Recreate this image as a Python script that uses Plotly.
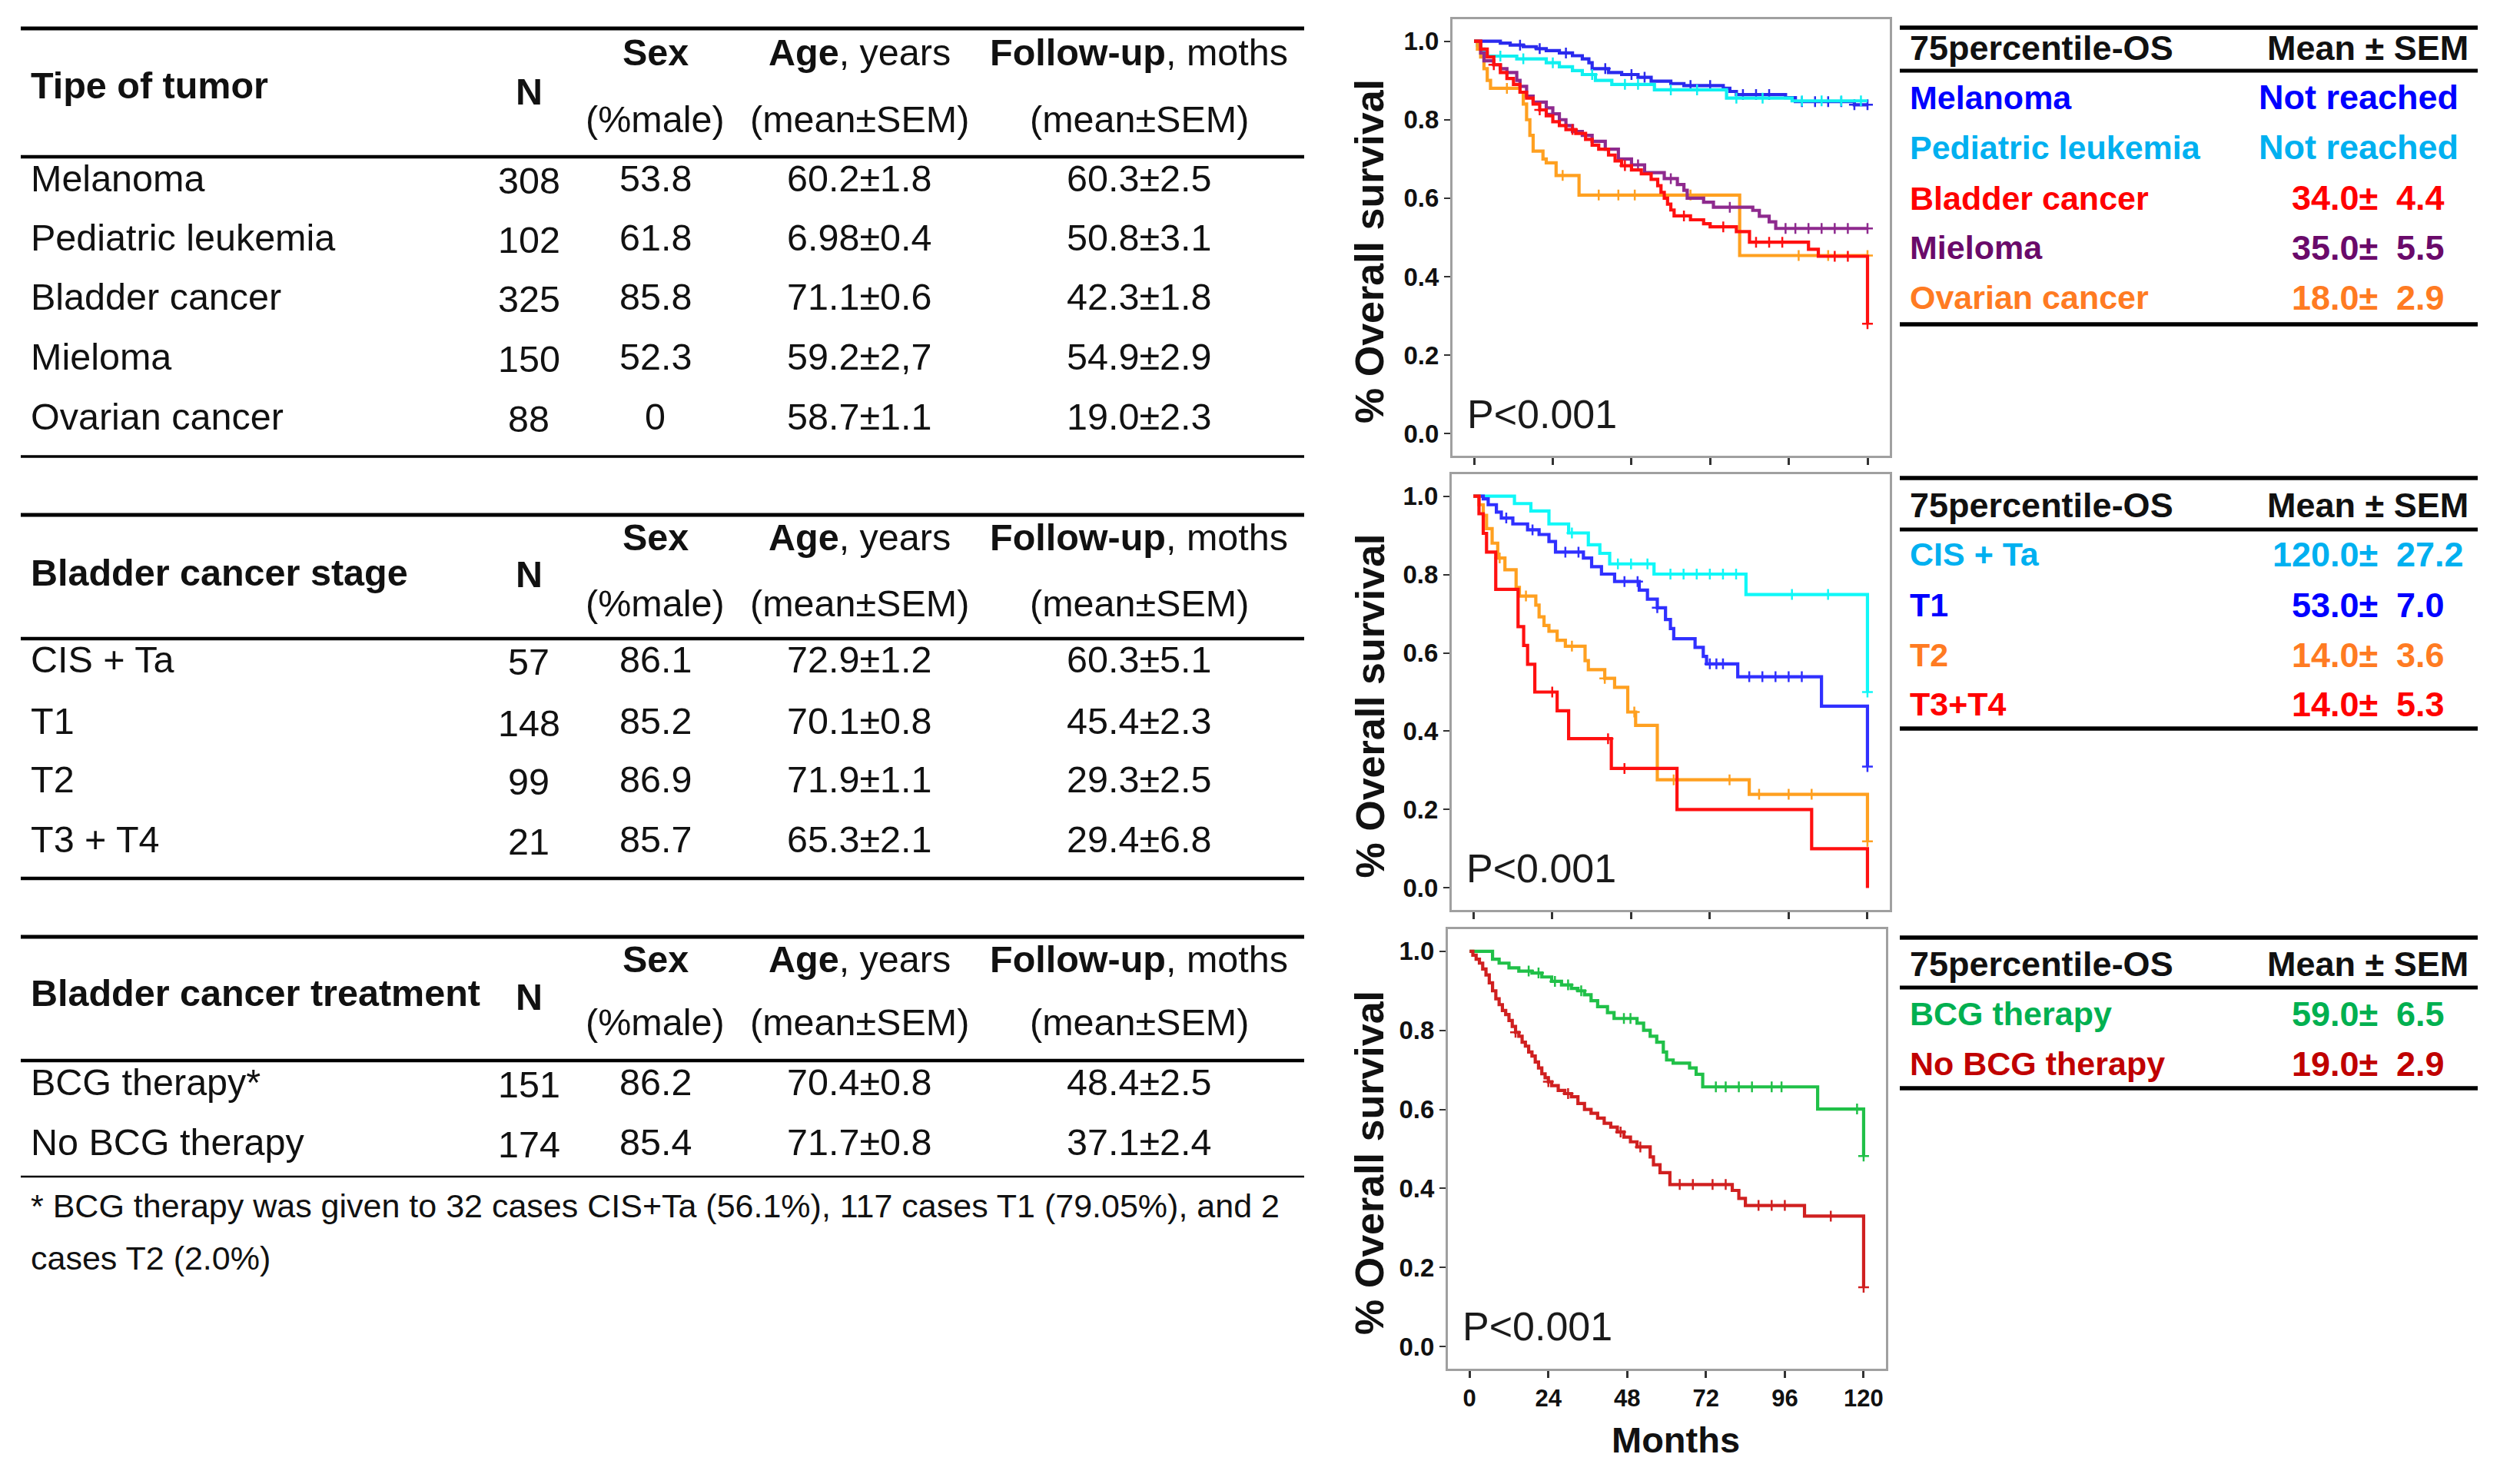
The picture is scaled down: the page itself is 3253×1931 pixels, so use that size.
import plotly.graph_objects as go

W, H = 3253, 1931

# ---------------- DATA ----------------
# Left tables
col_heads_top = ["<b>Sex</b>", "<b>Age</b>, years", "<b>Follow-up</b>, moths"]
col_heads_bot = ["(%male)", "(mean±SEM)", "(mean±SEM)"]

tumor_title = "Tipe of tumor"
tumor_labels = ["Melanoma", "Pediatric leukemia", "Bladder cancer", "Mieloma", "Ovarian cancer"]
tumor_n = ["308", "102", "325", "150", "88"]
tumor_sex = ["53.8", "61.8", "85.8", "52.3", "0"]
tumor_age = ["60.2±1.8", "6.98±0.4", "71.1±0.6", "59.2±2,7", "58.7±1.1"]
tumor_fu = ["60.3±2.5", "50.8±3.1", "42.3±1.8", "54.9±2.9", "19.0±2.3"]

stage_title = "Bladder cancer stage"
stage_labels = ["CIS + Ta", "T1", "T2", "T3 + T4"]
stage_n = ["57", "148", "99", "21"]
stage_sex = ["86.1", "85.2", "86.9", "85.7"]
stage_age = ["72.9±1.2", "70.1±0.8", "71.9±1.1", "65.3±2.1"]
stage_fu = ["60.3±5.1", "45.4±2.3", "29.3±2.5", "29.4±6.8"]

treat_title = "Bladder cancer treatment"
treat_labels = ["BCG therapy*", "No BCG therapy"]
treat_n = ["151", "174"]
treat_sex = ["86.2", "85.4"]
treat_age = ["70.4±0.8", "71.7±0.8"]
treat_fu = ["48.4±2.5", "37.1±2.4"]

footnote_lines = ["* BCG therapy was given to 32 cases CIS+Ta (56.1%), 117 cases T1 (79.05%), and 2",
                  "cases T2 (2.0%)"]

# Right tables
os_head = ["75percentile-OS", "Mean ± SEM"]
os1_labels = ["Melanoma", "Pediatric leukemia", "Bladder cancer", "Mieloma", "Ovarian cancer"]
os1_values = ["Not reached", "Not reached", "34.0± 4.4", "35.0± 5.5", "18.0± 2.9"]
os2_labels = ["CIS + Ta", "T1", "T2", "T3+T4"]
os2_values = ["120.0± 27.2", "53.0± 7.0", "14.0± 3.6", "14.0± 5.3"]
os3_labels = ["BCG therapy", "No BCG therapy"]
os3_values = ["59.0± 6.5", "19.0± 2.9"]

# Kaplan-Meier curves (months, survival)
mel_t = [0, 8, 11, 15, 19, 22, 26, 30, 33, 35, 36, 41, 45, 50, 54, 60, 64, 76, 78, 80, 95, 98, 116, 120]
mel_s = [1.0, 0.995, 0.99, 0.986, 0.981, 0.976, 0.97, 0.963, 0.955, 0.945, 0.93, 0.92, 0.915, 0.908, 0.898,
         0.892, 0.887, 0.88, 0.872, 0.864, 0.856, 0.846, 0.838, 0.838]
leuk_t = [0, 1, 2, 3, 4, 13, 22, 26, 30, 33, 37, 42, 55, 77, 97, 120]
leuk_s = [1.0, 0.99, 0.98, 0.97, 0.962, 0.955, 0.945, 0.935, 0.925, 0.915, 0.9, 0.89, 0.876, 0.855, 0.848, 0.848]
bl_t = [0, 2, 4, 6, 8, 10, 12, 14, 16, 18, 20, 22, 24, 26, 28, 31, 34, 36, 38, 41, 43, 45, 48, 51, 54, 56, 57,
        58, 59, 60, 61, 66, 70, 72, 80, 84, 102, 105, 120]
bl_s = [1.0, 0.98, 0.96, 0.94, 0.92, 0.905, 0.89, 0.87, 0.855, 0.84, 0.825, 0.81, 0.795, 0.785, 0.775, 0.765,
        0.75, 0.735, 0.725, 0.71, 0.695, 0.683, 0.672, 0.662, 0.648, 0.632, 0.615, 0.6, 0.585, 0.57, 0.555,
        0.545, 0.535, 0.527, 0.515, 0.488, 0.47, 0.452, 0.28]
mie_t = [0, 2, 3, 6, 8, 10, 13, 14, 16, 18, 22, 24, 26, 28, 30, 33, 36, 40, 44, 48, 52, 58, 62, 64, 65, 70, 73,
         85, 87, 90, 92, 120]
mie_s = [1.0, 0.97, 0.95, 0.94, 0.93, 0.92, 0.9, 0.885, 0.86, 0.845, 0.83, 0.815, 0.8, 0.785, 0.77, 0.76, 0.745,
         0.725, 0.7, 0.685, 0.665, 0.65, 0.635, 0.62, 0.6, 0.59, 0.577, 0.569, 0.554, 0.54, 0.523, 0.523]
ov_t = [0, 1, 2, 3, 4, 5, 14, 15, 16, 17, 18, 21, 22, 25, 32, 81, 120]
ov_s = [1.0, 0.98, 0.96, 0.93, 0.9, 0.88, 0.87, 0.84, 0.8, 0.76, 0.72, 0.7, 0.69, 0.658, 0.608, 0.454, 0.454]

cis_t = [0, 12.5, 17.5, 23, 29, 35, 38.5, 41.5, 55, 83, 120]
cis_s = [1.0, 0.981, 0.962, 0.929, 0.906, 0.876, 0.854, 0.827, 0.801, 0.749, 0.5]
t1_t = [0, 3, 4.5, 7, 8.5, 12, 16.5, 20, 23, 25, 33.5, 36, 39, 43, 50.5, 53, 56, 58.5, 60, 61, 67.5, 70, 71,
        80.5, 106, 120]
t1_s = [1.0, 0.993, 0.978, 0.959, 0.944, 0.929, 0.914, 0.902, 0.884, 0.857, 0.842, 0.82, 0.801, 0.782, 0.76,
        0.737, 0.715, 0.685, 0.662, 0.636, 0.614, 0.591, 0.572, 0.539, 0.464, 0.31]
t2_t = [0, 1.7, 3, 4, 5.7, 7.4, 9.6, 13, 14, 19, 20, 21.5, 23, 25.5, 28, 34, 35, 40, 43, 47, 49.4, 56, 84, 120]
t2_s = [1.0, 0.978, 0.951, 0.917, 0.88, 0.842, 0.812, 0.767, 0.745, 0.722, 0.692, 0.67, 0.655, 0.632, 0.617,
        0.58, 0.557, 0.535, 0.512, 0.449, 0.415, 0.276, 0.239, 0.119]
t34_t = [0, 1.7, 3, 4, 6.8, 13.6, 15.3, 16.5, 18.7, 25.5, 29, 42, 62, 103, 120]
t34_s = [1.0, 0.955, 0.905, 0.857, 0.762, 0.667, 0.619, 0.571, 0.5, 0.452, 0.381, 0.305, 0.2, 0.1, 0.0]

bcg_t = [0, 7, 9, 12, 15, 19, 22, 25, 28, 31, 33, 35, 37, 39, 42, 44, 51, 53, 55, 57, 59, 60, 62, 67, 69, 71,
         106, 120]
bcg_s = [1.0, 0.98, 0.97, 0.958, 0.95, 0.945, 0.935, 0.924, 0.915, 0.906, 0.9, 0.89, 0.875, 0.86, 0.845, 0.83,
         0.818, 0.8, 0.785, 0.77, 0.745, 0.725, 0.717, 0.705, 0.689, 0.657, 0.601, 0.482]
nobcg_t = [0, 1, 2, 3, 4, 5, 6, 7, 8, 9, 10, 11, 12, 13, 14, 15, 16, 17, 18, 19, 20, 21, 22, 23, 24, 25, 27, 29,
           31, 33, 35, 37, 39, 41, 43, 45, 47, 49, 51, 55, 56, 58, 61, 80, 82, 84, 102, 120]
nobcg_s = [1.0, 0.99, 0.98, 0.97, 0.955, 0.94, 0.92, 0.9, 0.88, 0.865, 0.85, 0.84, 0.825, 0.81, 0.795, 0.785,
           0.77, 0.76, 0.745, 0.735, 0.72, 0.705, 0.69, 0.68, 0.67, 0.66, 0.648, 0.64, 0.632, 0.615, 0.6, 0.59,
           0.578, 0.565, 0.555, 0.543, 0.53, 0.518, 0.505, 0.48, 0.46, 0.44, 0.41, 0.395, 0.375, 0.357, 0.33, 0.15]

# censoring times
mel_c = [14, 20, 28, 40, 48, 52, 66, 72, 82, 86, 90, 100, 104, 108, 112, 116, 120]
leuk_c = [8, 15, 24, 36, 46, 50, 60, 68, 80, 88, 100, 106, 112, 118]
bl_c = [6, 20, 30, 46, 64, 76, 86, 90, 94, 110, 114, 120]
mie_c = [24, 50, 60, 78, 95, 98, 102, 106, 110, 114, 120]
ov_c = [10, 27, 38, 44, 49, 66, 99, 108, 120]
cis_c = [30, 44, 48, 53, 60, 64, 68, 72, 76, 80, 97, 108, 120]
t1_c = [10, 18, 28, 32, 46, 50, 56, 72, 74, 76, 84, 88, 92, 96, 100, 120]
t2_c = [8, 16, 30, 40, 49, 61, 78, 87, 96, 103, 120]
t34_c = [24, 41, 46]
bcg_c = [18, 21, 26, 30, 34, 47, 49, 75, 78, 82, 86, 92, 95, 118, 120]
nobcg_c = [14, 24, 30, 46, 52, 64, 68, 74, 78, 88, 92, 96, 110, 120]

y_tickvals = [0.0, 0.2, 0.4, 0.6, 0.8, 1.0]
y_ticktext = ["0.0", "0.2", "0.4", "0.6", "0.8", "1.0"]
x_tickvals = [0, 24, 48, 72, 96, 120]
x_ticktext = ["0", "24", "48", "72", "96", "120"]
p_text = "P<0.001"
y_title = "% Overall survival"
x_title = "Months"

# ---------------- STYLE / LAYOUT ----------------
LF = "Liberation Sans, Arial, sans-serif"
RF = "Liberation Sans, Arial, sans-serif"
TXT = "#111111"

annotations = []
shapes = []


def txt(x, y, s, size, color=TXT, bold=False, xanchor="center", family=LF, angle=0):
    annotations.append(dict(x=x / W, y=1 - y / H, xref="paper", yref="paper",
                            text=f"<b>{s}</b>" if bold else s, showarrow=False,
                            xanchor=xanchor, yanchor="middle", textangle=angle,
                            font=dict(size=size, color=color, family=family)))


def hline(x0, x1, y, w, color="#000000"):
    shapes.append(dict(type="line", xref="paper", yref="paper", x0=x0 / W, x1=x1 / W,
                       y0=1 - y / H, y1=1 - y / H, line=dict(color=color, width=w)))


# left tables
LX0, LX1 = 27, 1697
CX_LABEL, CX_N, CX_SEX, CX_AGE, CX_FU = 38, 688, 853, 1118, 1482
FS = 48.5


def left_table(title, labels, n, sex, age, fu, top, y_sex, y_title, y_n, y_male, rule, row_ys, bottom, bw):
    hline(LX0, LX1, top, 5)
    txt(CX_LABEL, y_title, title, FS, bold=True, xanchor="left")
    txt(CX_N, y_n, "N", FS, bold=True)
    for cx, a, b in zip([CX_SEX, CX_AGE, CX_FU], col_heads_top, col_heads_bot):
        txt(cx, y_sex, a, FS)
        txt(cx, y_male, b, FS)
    hline(LX0, LX1, rule, 4.5)
    for i, y in enumerate(row_ys):
        txt(CX_LABEL, y, labels[i], FS, xanchor="left")
        txt(CX_N, y + 3, n[i], FS)
        txt(CX_SEX, y, sex[i], FS)
        txt(CX_AGE, y, age[i], FS)
        txt(CX_FU, y, fu[i], FS)
    hline(LX0, LX1, bottom, bw)


left_table(tumor_title, tumor_labels, tumor_n, tumor_sex, tumor_age, tumor_fu,
           37, 68, 111, 119, 155, 204, [232, 309, 386, 464, 542], 594, 3.5)
left_table(stage_title, stage_labels, stage_n, stage_sex, stage_age, stage_fu,
           670, 699, 745, 747, 785, 831, [858, 938, 1014, 1092], 1143, 4.5)
left_table(treat_title, treat_labels, treat_n, treat_sex, treat_age, treat_fu,
           1219, 1248, 1292, 1297, 1330, 1380, [1408, 1486], 1531, 2.5)
txt(CX_LABEL, 1569, footnote_lines[0], 43, xanchor="left")
txt(CX_LABEL, 1637, footnote_lines[1], 43, xanchor="left")

# right tables
RX0, RX1 = 2472, 3224
RL, RPM, RNR, RHR = 2483, 3096, 3201, 3214
RFS_H, RFS = 45, 43


def right_table(labels, values, colors, top, y_head, rule, row_ys, bottom):
    hline(RX0, RX1, top, 5.5)
    txt(RL, y_head, os_head[0], RFS_H, bold=True, xanchor="left", family=RF)
    txt(RHR, y_head, os_head[1], RFS_H, bold=True, xanchor="right", family=RF)
    hline(RX0, RX1, rule, 5)
    for i, y in enumerate(row_ys):
        txt(RL, y, labels[i], RFS, color=colors[i], bold=True, xanchor="left", family=RF)
        v = values[i]
        if "±" in v:
            a, b = v.split("±")
            txt(RPM, y, a + "±", RFS_H, color=colors[i], bold=True, xanchor="right", family=RF)
            txt(RPM + 20, y, b.strip(), RFS_H, color=colors[i], bold=True, xanchor="left", family=RF)
        else:
            txt(RNR, y, v, RFS_H, color=colors[i], bold=True, xanchor="right", family=RF)
    hline(RX0, RX1, bottom, 5.5)


right_table(os1_labels, os1_values, ["#0000ff", "#00b0f0", "#ff0000", "#6a0a6a", "#ff7b22"],
            36, 62, 92, [127, 192, 258, 322, 387], 422)
right_table(os2_labels, os2_values, ["#00b0f0", "#0000ff", "#ff7b22", "#ff0000"],
            622, 657, 689, [721, 787, 852, 916], 948)
right_table(os3_labels, os3_values, ["#00b050", "#c00000"],
            1220, 1254, 1285, [1319, 1384], 1416)

# ---------------- PLOTS ----------------
fig = go.Figure()


def surv_at(ts, ss, t):
    v = ss[0]
    for ti, si in zip(ts, ss):
        if ti <= t:
            v = si
    return v


def km(ts, ss, cens, color, ax):
    xa, ya = ("x", "y") if ax == 1 else (f"x{ax}", f"y{ax}")
    fig.add_trace(go.Scatter(x=ts, y=ss, mode="lines", line=dict(color=color, width=4.2, shape="hv"),
                             xaxis=xa, yaxis=ya, showlegend=False, hoverinfo="skip"))
    fig.add_trace(go.Scatter(x=cens, y=[surv_at(ts, ss, c) for c in cens], mode="markers",
                             marker=dict(symbol="cross-thin", size=10, line=dict(color=color, width=2.5)),
                             xaxis=xa, yaxis=ya, showlegend=False, hoverinfo="skip"))


km(mel_t, mel_s, mel_c, "#2a2aee", 1)
km(leuk_t, leuk_s, leuk_c, "#10f0f0", 1)
km(ov_t, ov_s, ov_c, "#ffa020", 1)
km(mie_t, mie_s, mie_c, "#8e2a8e", 1)
km(bl_t, bl_s, bl_c, "#ff1010", 1)

km(cis_t, cis_s, cis_c, "#10f8f8", 2)
km(t1_t, t1_s, t1_c, "#3030ff", 2)
km(t2_t, t2_s, t2_c, "#ffa020", 2)
km(t34_t, t34_s, t34_c, "#ff1010", 2)

km(bcg_t, bcg_s, bcg_c, "#20c048", 3)
km(nobcg_t, nobcg_s, nobcg_c, "#d02020", 3)

panels = {1: (1890, 2459, 25, 593), 2: (1889, 2459, 617, 1184), 3: (1884, 2454, 1209, 1781)}
layout_axes = {}
for k, (x0, x1, y0, y1) in panels.items():
    xs = "xaxis" if k == 1 else f"xaxis{k}"
    ys = "yaxis" if k == 1 else f"yaxis{k}"
    ya = "y" if k == 1 else f"y{k}"
    xa = "x" if k == 1 else f"x{k}"
    layout_axes[xs] = dict(domain=[x0 / W, x1 / W], anchor=ya, range=[-6.6, 126.8],
                           tickvals=x_tickvals, ticktext=x_ticktext, showticklabels=(k == 3),
                           ticks="outside", ticklen=9, tickwidth=2.5, tickcolor="#333",
                           showline=True, linecolor="#a0a0a0", linewidth=3, mirror=True,
                           showgrid=False, zeroline=False,
                           tickfont=dict(family=LF, size=31, color=TXT, weight="bold"))
    layout_axes[ys] = dict(domain=[1 - y1 / H, 1 - y0 / H], anchor=xa, range=[-0.056, 1.056],
                           tickvals=y_tickvals, ticktext=y_ticktext,
                           ticks="outside", ticklen=8, tickwidth=2, tickcolor="#333",
                           showline=True, linecolor="#a0a0a0", linewidth=3, mirror=True,
                           showgrid=False, zeroline=False,
                           tickfont=dict(family=LF, size=33, color=TXT, weight="bold"))
    # y title
    txt(1782, (y0 + y1) / 2 + 18, y_title, 52, bold=True, angle=-90)
    # p-value
    annotations.append(dict(x=-2.6, y=0.05, xref=xa, yref=ya, text=p_text, showarrow=False,
                            xanchor="left", yanchor="middle",
                            font=dict(family=LF, size=52, color="#1a1a1a")))

txt(2180, 1873, x_title, 47, bold=True)

fig.update_layout(width=W, height=H, margin=dict(l=0, r=0, t=0, b=0),
                  paper_bgcolor="white", plot_bgcolor="white",
                  annotations=annotations, shapes=shapes, showlegend=False, **layout_axes)

fig.write_html("out.html", config={"displayModeBar": False},
               post_script="document.body.style.margin='0px';document.body.style.overflow='hidden';")
